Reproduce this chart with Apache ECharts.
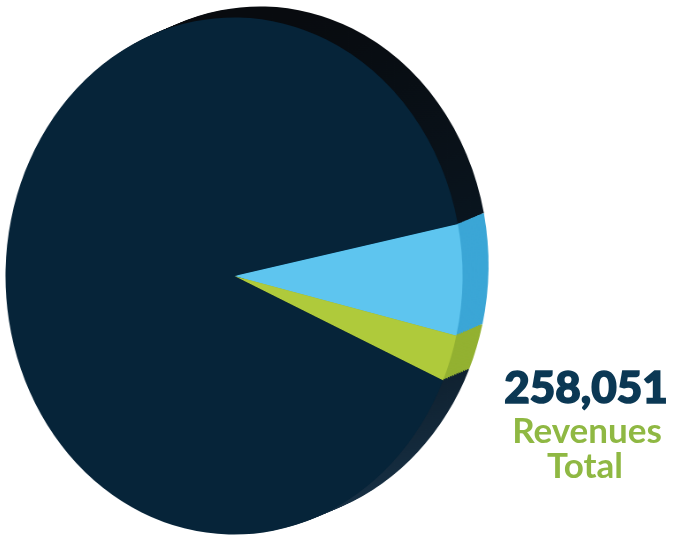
<!DOCTYPE html>
<html><head><meta charset="utf-8">
<script src="https://cdn.jsdelivr.net/npm/echarts@6/dist/echarts.min.js"></script>
<style>
html,body{margin:0;padding:0;background:#fff;}
#wrap{position:relative;width:674px;height:536px;overflow:hidden;}
#pie{position:absolute;left:-100px;top:0;width:874px;height:536px;transform-origin:334px 276px;transform:scaleX(0.884);}
#txt{position:absolute;left:0;top:0;width:674px;height:536px;}
</style></head><body>
<div id="wrap"><div id="pie"></div><div id="txt"></div></div>
<script>
// Data
const categories = ['Segment B', 'Segment C', 'Segment A'];
const values = [17900, 7500, 232651];
const totalLabel = '258,051';
const captionLines = ['Revenues', 'Total'];

// Styles
const faceColors = ['#5ec5ef', '#afca3b', '#062439'];
const sideNavy = new echarts.graphic.LinearGradient(0, 0, 0, 1, [
  { offset: 0, color: '#080b0f' },
  { offset: 0.5, color: '#0a1722' },
  { offset: 1, color: '#183247' }
]);
const sideColors = ['#3ba6d6', '#93b131', sideNavy];

const R = 258.5, CX = 334, CY = 276, START = 11.6;
const dx = 29.4, dy = -11;
const LAYERS = 12;

function pieData(colors) {
  return categories.map((c, i) => ({ name: c, value: values[i], itemStyle: { color: colors[i] } }));
}
function layer(offFrac, colors, z) {
  return {
    type: 'pie', silent: true, z: z,
    radius: R, center: [CX + dx * offFrac, CY + dy * offFrac],
    startAngle: START, clockwise: true,
    label: { show: false }, labelLine: { show: false },
    emphasis: { disabled: true },
    data: pieData(colors)
  };
}

const series = [];
for (let k = LAYERS; k >= 1; k--) series.push(layer(k / LAYERS, sideColors, LAYERS - k + 1));
series.push(layer(0, faceColors, LAYERS + 2));

const pie = echarts.init(document.getElementById('pie'), null, { renderer: 'canvas' });
pie.setOption({ animation: false, series: series });

const txt = echarts.init(document.getElementById('txt'), null, { renderer: 'canvas' });
txt.setOption({
  animation: false,
  graphic: [
    { type: 'text', x: 586, y: 389, style: { text: totalLabel, align: 'center', verticalAlign: 'middle',
      font: '900 44px Lato', fill: '#0b3854', stroke: '#0b3854', lineWidth: 1.6 } },
    { type: 'text', x: 587, y: 432, style: { text: captionLines[0], align: 'center', verticalAlign: 'middle',
      font: 'bold 35px Lato', fill: '#8fb843' } },
    { type: 'text', x: 585, y: 467, style: { text: captionLines[1], align: 'center', verticalAlign: 'middle',
      font: 'bold 35px Lato', fill: '#8fb843' } }
  ]
});
</script>
</body></html>
